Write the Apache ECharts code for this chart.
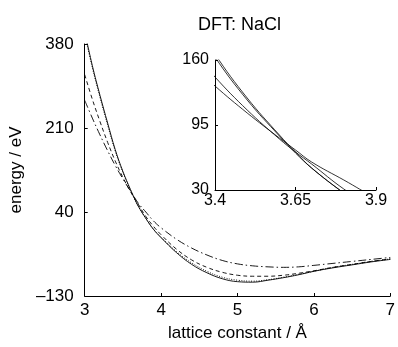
<!DOCTYPE html>
<html>
<head>
<meta charset="utf-8">
<script src="https://cdn.jsdelivr.net/npm/echarts@6/dist/echarts.min.js"></script>
<style>html,body{margin:0;padding:0;background:#fff}#c{width:398px;height:347px}</style>
</head>
<body>
<div id="c"></div>
<script>
// lattice constant (Å)
const latticeX = [3.0,3.1,3.2,3.3,3.4,3.5,3.6,3.65,3.7,3.8,3.9,4.0,4.2,4.4,4.6,4.8,5.0,5.2,5.4,5.6,5.8,6.0,6.25,6.5,6.75,7.0];
// energy (eV) for four curves
const solidE  = [405,336,276,220,166,122,85,68,52,27,5,-12,-42,-66,-83,-95,-101,-102,-98,-93,-87,-80,-73,-67,-61,-56];
const dottedE = [400,332,272,216,163,120,84,67,52,27,5,-11,-40,-63,-80,-92,-98,-100,-97,-92,-86,-80,-72,-66,-60,-55];
const dashedE = [318,268,223,181,143,110,81,68,56,31,11,-6,-35,-57,-72,-82,-88,-90,-90,-88,-84,-79,-72,-66,-60,-55];
const dashDotE= [266,230,196,164,134,107,82,70,58,40,22,8,-15,-33,-47,-58,-65,-69,-71,-72,-71,-68,-64,-60,-56,-52];

const mainXTicks = [3,4,5,6,7];
const mainYTicks = [-130,40,210,380];
const insetXTicks = [3.4,3.65,3.9];
const insetYTicks = [30,95,160];

const FONT = "'Liberation Sans', Arial, Helvetica, sans-serif";
const pairs = arr => latticeX.map((x,i)=>[x, arr[i]]);
const fmt = v => String(v).replace('-', '\u2013');

function axisCommon(ticks, fs, margin){
  return {
    axisLine:{show:true,onZero:false,lineStyle:{color:'#000',width:1}},
    axisTick:{show:true,inside:true,length:3,lineStyle:{color:'#000',width:1},customValues:ticks},
    axisLabel:{color:'#000',fontSize:fs,fontFamily:FONT,margin:margin,customValues:ticks,formatter:fmt},
    splitLine:{show:false}
  };
}

const chart = echarts.init(document.getElementById('c'), null, {renderer:'canvas'});
const mainStyles = [
  {data:solidE, type:'solid'},
  {data:dottedE, type:[1,1.5]},
  {data:dashedE, type:[4,3]},
  {data:dashDotE, type:[8,3,1.5,3]}
];
const series = [];
mainStyles.forEach(s=>{
  series.push({type:'line',xAxisIndex:0,yAxisIndex:0,data:pairs(s.data),showSymbol:false,symbol:'none',smooth:0.4,clip:true,
    lineStyle:{color:'#000',width:0.9,type:s.type},silent:true,animation:false});
});
mainStyles.forEach(s=>{
  series.push({type:'line',xAxisIndex:1,yAxisIndex:1,data:pairs(s.data),showSymbol:false,symbol:'none',smooth:0.4,clip:true,
    lineStyle:{color:'#000',width:0.8,type:'solid'},silent:true,animation:false});
});

chart.setOption({
  animation:false,
  backgroundColor:'#fff',
  title:{text:'DFT: NaCl',left:193,top:11,textStyle:{fontSize:18,fontWeight:'normal',color:'#000',fontFamily:FONT}},
  grid:[
    {left:80,right:5,top:44,bottom:47,containLabel:false},
    {left:215,right:22,top:60,bottom:157,containLabel:false}
  ],
  xAxis:[
    Object.assign({type:'value',gridIndex:0,min:3,max:7,name:'lattice constant / Å',nameLocation:'middle',nameGap:29,
      nameTextStyle:{color:'#000',fontSize:17,fontFamily:FONT}}, axisCommon(mainXTicks,17,6)),
    Object.assign({type:'value',gridIndex:1,min:3.4,max:3.9}, axisCommon(insetXTicks,16,3))
  ],
  yAxis:[
    Object.assign({type:'value',gridIndex:0,min:-130,max:380,name:'energy / eV',nameLocation:'middle',nameGap:55,
      nameTextStyle:{color:'#000',fontSize:17,fontFamily:FONT}}, axisCommon(mainYTicks,17,11)),
    Object.assign({type:'value',gridIndex:1,min:30,max:160}, axisCommon(insetYTicks,16,6))
  ],
  series:series
});
</script>
</body>
</html>
